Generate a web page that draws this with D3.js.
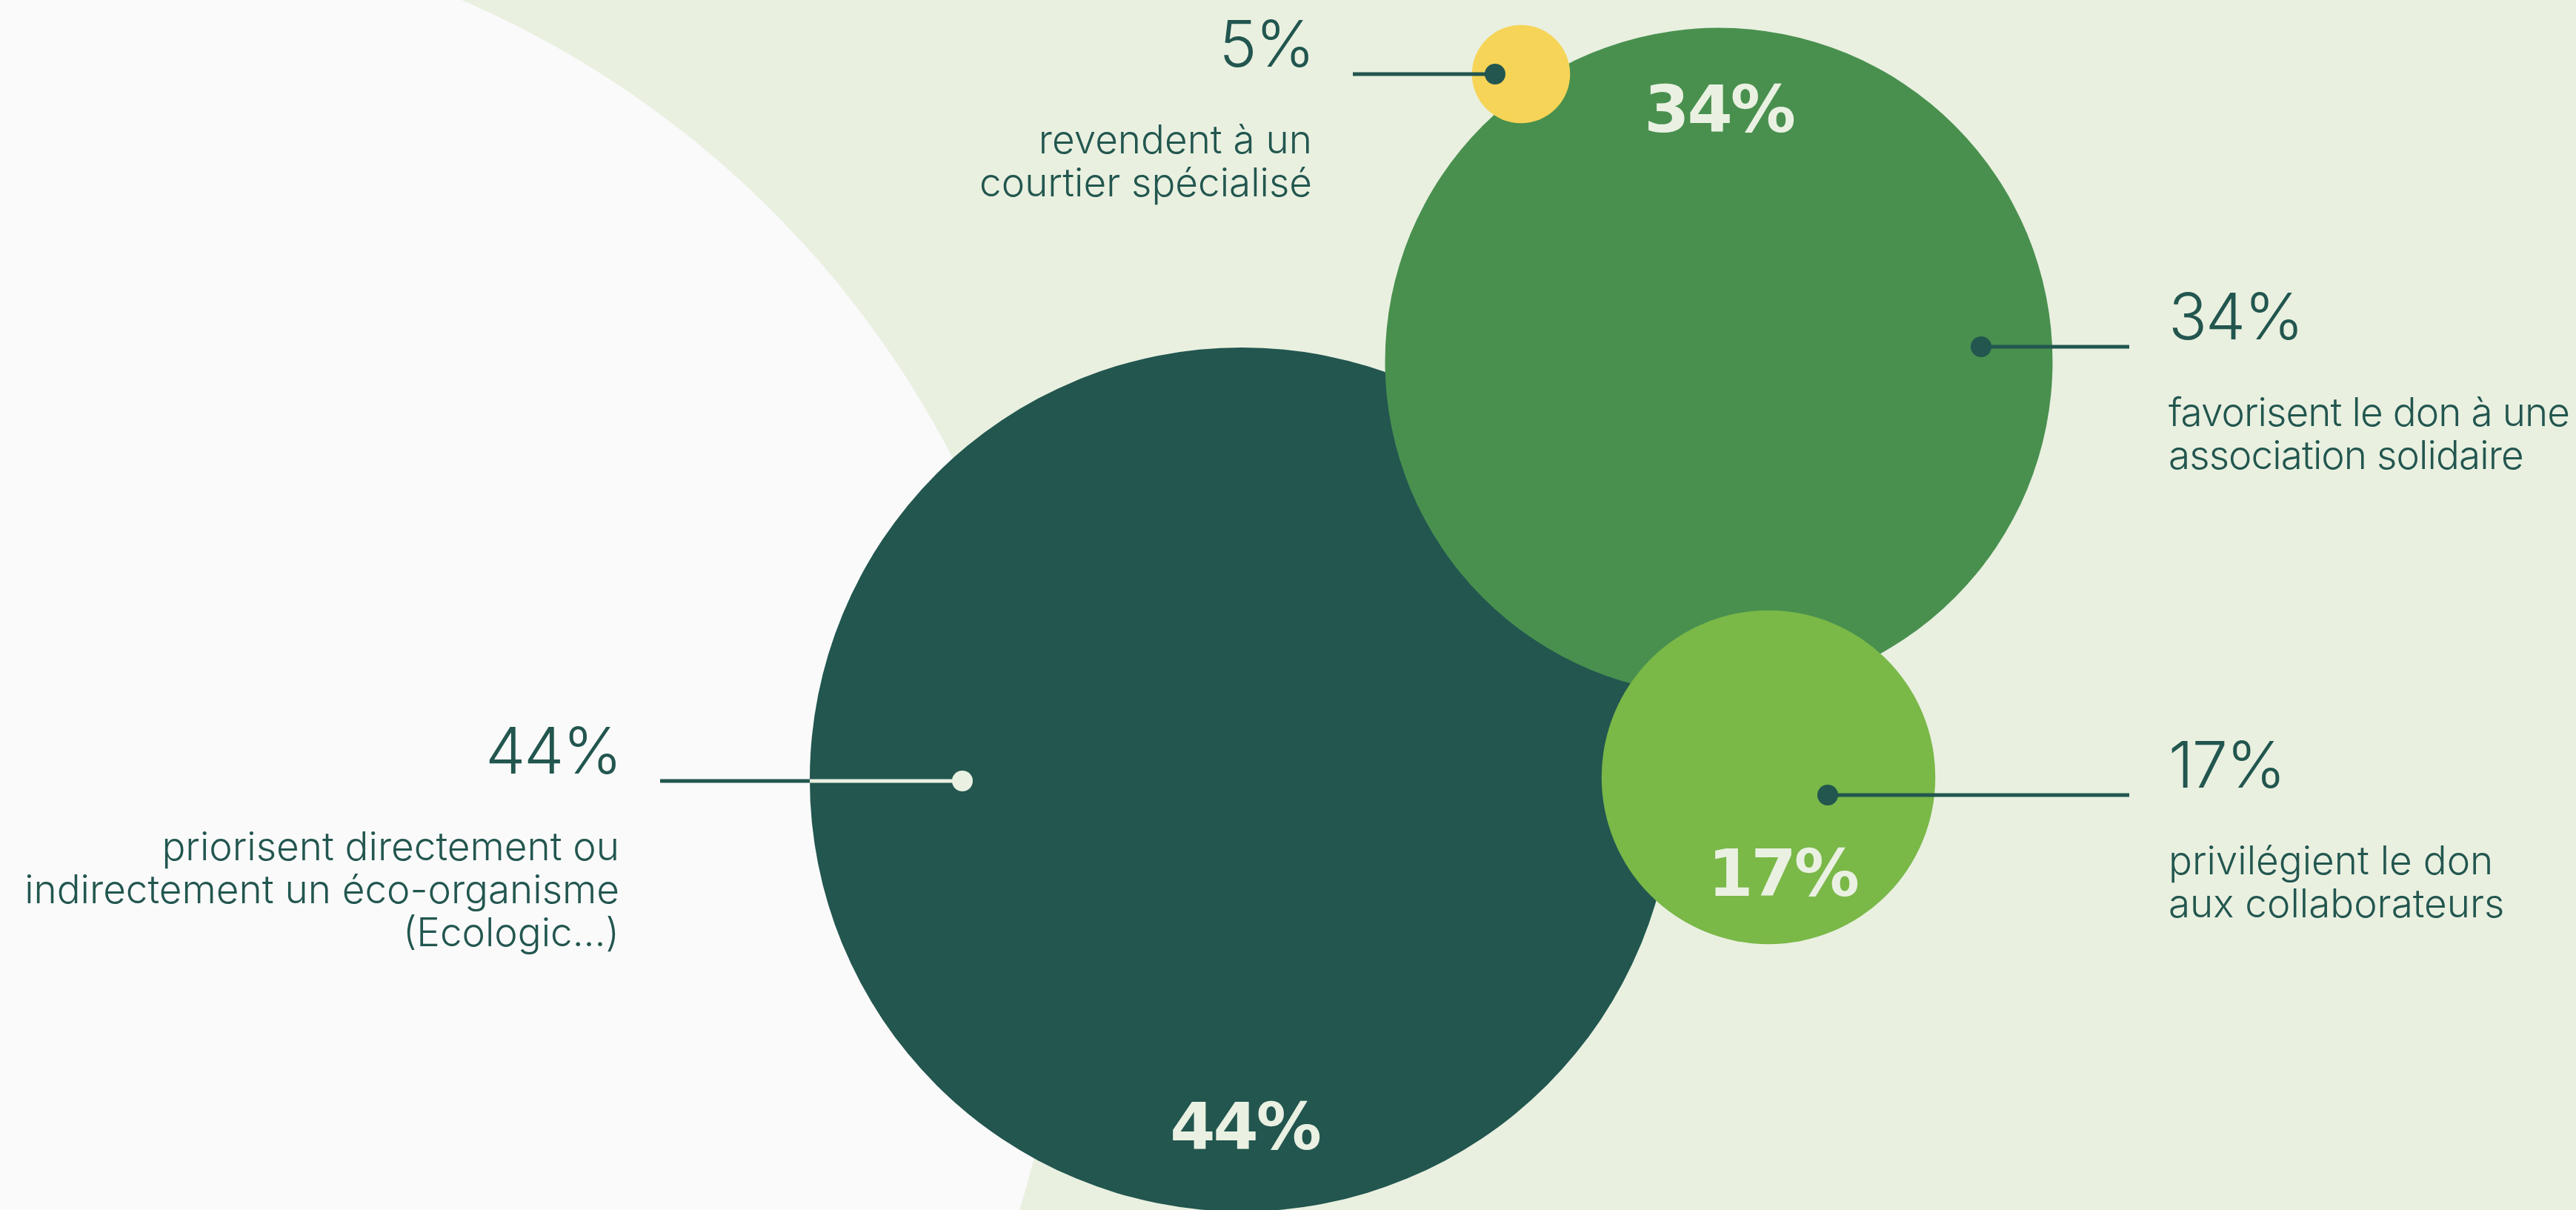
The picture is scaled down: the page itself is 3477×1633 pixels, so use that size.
<!DOCTYPE html>
<html>
<head>
<meta charset="utf-8">
<script src="https://cdn.jsdelivr.net/npm/d3@7"></script>
<style>
  html, body { margin: 0; padding: 0; background: #e9f0e0; }
  svg { display: block; }
</style>
</head>
<body>
<div id="chart"></div>
<script>
// data
const keys = ['eco', 'asso', 'collab', 'courtier'];
const values = [44, 34, 17, 5];
const valueLabels = ['44%', '34%', '17%', '5%'];
const descriptions = [
  ['priorisent directement ou', 'indirectement un éco-organisme', '(Ecologic...)'],
  ['favorisent le don à une', 'association solidaire'],
  ['privilégient le don', 'aux collaborateurs'],
  ['revendent à un', 'courtier spécialisé']
];

// layout (positions only, kept apart from the values)
const width = 3477, height = 1633;
const layout = {
  eco:      { cx: 1676, cy: 1052, dot: [-377, 2],  lineTo: 891,  side: 'left',  inner: [4, 499] },
  asso:     { cx: 2320, cy: 488,  dot: [354, -20], lineTo: 2874, side: 'right', inner: [0, -310] },
  collab:   { cx: 2387, cy: 1049, dot: [80, 24],   lineTo: 2874, side: 'right', inner: [19, 160] },
  courtier: { cx: 2053, cy: 100,  dot: [-35, 0],   lineTo: 1826, side: 'left',  inner: null }
};
const colors = { eco: '#22564f', asso: '#49904f', collab: '#7ab848', courtier: '#f6d457' };
const ink = '#22564f';
const cream = '#eaf1e2';

const r = d3.scaleLinear().domain([0, 44]).range([0, 583]);

const svg = d3.select('#chart').append('svg')
  .attr('width', width)
  .attr('height', height)
  .attr('viewBox', [0, 0, width, height]);

svg.append('rect').attr('width', width).attr('height', height).attr('fill', '#e9f0e0');

// big pale disc on the left
svg.append('circle')
  .attr('cx', 90).attr('cy', 1236).attr('r', 1346)
  .attr('fill', '#fafafa');

const rows = keys.map((k, i) => ({ key: k, value: values[i], label: valueLabels[i], desc: descriptions[i], ...layout[k] }));

// bubbles
svg.append('g').selectAll('circle')
  .data(rows)
  .join('circle')
  .attr('cx', d => d.cx)
  .attr('cy', d => d.cy)
  .attr('r', d => r(d.value))
  .attr('fill', d => colors[d.key]);

// clip for eco circle, so its leader turns cream inside
const eco = rows[0];
svg.append('clipPath').attr('id', 'eco-clip')
  .append('circle').attr('cx', eco.cx).attr('cy', eco.cy).attr('r', r(eco.value));

const leaders = svg.append('g');
rows.forEach(d => {
  const dx = d.cx + d.dot[0], dy = d.cy + d.dot[1];
  leaders.append('line')
    .attr('x1', d.lineTo).attr('x2', dx)
    .attr('y1', dy).attr('y2', dy)
    .attr('stroke', ink).attr('stroke-width', 5);
  if (d.key === 'eco') {
    leaders.append('line')
      .attr('x1', d.lineTo).attr('x2', dx)
      .attr('y1', dy).attr('y2', dy)
      .attr('stroke', cream).attr('stroke-width', 5)
      .attr('clip-path', 'url(#eco-clip)');
  }
  leaders.append('circle')
    .attr('cx', dx).attr('cy', dy).attr('r', 14)
    .attr('fill', d.key === 'eco' ? cream : ink);
});

// outside labels
const labels = svg.append('g').attr('font-family', 'Inter, "Noto Sans", sans-serif').attr('fill', ink);
rows.forEach(d => {
  const ly = d.cy + d.dot[1];
  const left = d.side === 'left';
  const x = left ? d.lineTo - 55 : d.lineTo + 53;
  const anchor = left ? 'end' : 'start';
  labels.append('text')
    .attr('x', left ? x + 2 : x).attr('y', ly - 10)
    .attr('text-anchor', anchor)
    .attr('font-size', 86).attr('font-weight', 300)
    .attr('letter-spacing', -2)
    .text(d.label);
  const t = labels.append('text')
    .attr('text-anchor', anchor)
    .attr('font-size', 53).attr('font-weight', 300);
  d.desc.forEach((line, j) => {
    t.append('tspan').attr('x', x).attr('y', ly + 107 + j * 58).text(line);
  });
  // keep right-hand text inside the frame
  if (!left) {
    const room = width - 8 - x;
    const widest = d3.max(t.selectAll('tspan').nodes(), n => n.getComputedTextLength());
    if (widest > room) t.attr('letter-spacing', -(widest - room) / 22);
  }
});

// labels inside bubbles
svg.append('g').selectAll('text')
  .data(rows.filter(d => d.inner))
  .join('text')
  .attr('x', d => d.cx + d.inner[0])
  .attr('y', d => d.cy + d.inner[1])
  .attr('text-anchor', 'middle')
  .attr('font-family', '"DejaVu Sans", sans-serif')
  .attr('font-weight', 700)
  .attr('font-size', 88)
  .attr('letter-spacing', -3)
  .attr('fill', cream)
  .text(d => d.label);
</script>
</body>
</html>
